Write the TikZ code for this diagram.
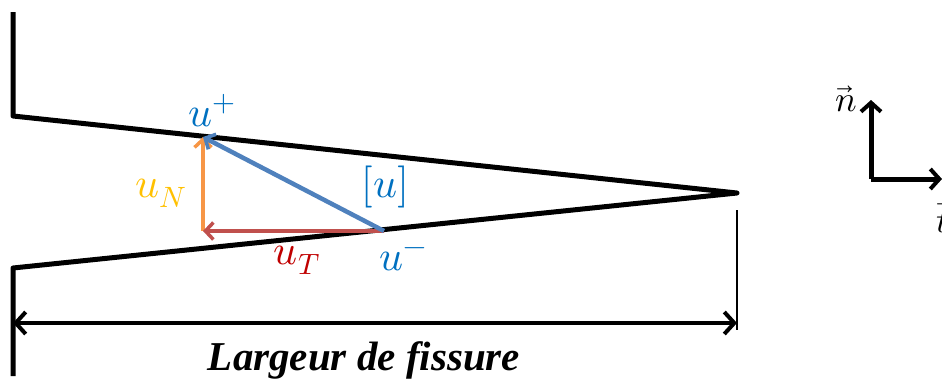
\documentclass[tikz,border=0pt]{standalone}
\usepackage{fontspec}
\usepackage{unicode-math}
\setmathfont{Latin Modern Math}
\newfontfamily\labelfont{Liberation Serif}
\usetikzlibrary{arrows.meta}
\definecolor{lblue}{RGB}{0,112,192}
\definecolor{ablue}{RGB}{79,129,189}
\definecolor{aorange}{RGB}{247,150,70}
\definecolor{lorange}{RGB}{255,192,0}
\definecolor{ared}{RGB}{192,80,77}
\definecolor{lred}{RGB}{192,0,0}
\tikzset{
  wall/.style={line width=5pt, line join=round},
  vec/.style={line width=4.5pt, -{Straight Barb[length=8pt,width=17pt,line width=3.5pt]}},
  lbl/.style={inner sep=0pt, font=\fontsize{42}{42}\selectfont},
  bigbarb/.style={line width=5pt, -{Straight Barb[length=9pt,width=20pt,line width=4pt]}},
}
\begin{document}
\begin{tikzpicture}[x=1pt,y=-1pt]
\useasboundingbox (0,0) rectangle (942,386);
% geometry
\coordinate (tl) at (13,12);
\coordinate (ul) at (13,116);
\coordinate (tip) at (737,193);
\coordinate (ll) at (13,268);
\coordinate (bl) at (13,376);
\coordinate (up) at (203,137);
\coordinate (um) at (384,231);
\coordinate (corner) at (203,231);
\coordinate (dl) at (13,323);
\coordinate (dr) at (737,323);
\coordinate (vt) at (737,210);
\coordinate (vb) at (737,330);
\coordinate (o) at (871,179);
\coordinate (ny) at (871,100);
\coordinate (tx) at (942,179);
% walls
\draw[wall] (tl) -- (ul) -- (tip) -- (ll) -- (bl);
\draw[line width=1.5pt] (vt) -- (vb);
% dimension
\draw[line width=4pt, {Straight Barb[length=10pt,width=22pt,line width=4pt]}-{Straight Barb[length=10pt,width=22pt,line width=4pt]}] (dl) -- (dr);
\node[inner sep=0pt, font=\labelfont\bfseries\itshape\fontsize{41}{41}\selectfont] (larg) at (364,360) {Largeur de fissure};
% vectors
\draw[vec, aorange] (corner) -- (up);
\draw[vec, ared] (um) -- (corner);
\draw[vec, ablue] (um) -- (up);
% labels
\node[lbl, text=lblue] (lup) at (212,111) {$u^{+}$};
\node[lbl, text=lorange] (lun) at (161,193) {$u_{N}$};
\node[lbl, text=lblue] (ljump) at (385,187) {$[u]$};
\node[lbl, text=lred] (lut) at (297,260) {$u_{T}$};
\node[lbl, text=lblue] (lum) at (403,259) {$u^{-}$};
% axes
\draw[bigbarb] (o) -- (ny);
\draw[bigbarb] (o) -- (tx);
\node[lbl, font=\fontsize{36}{36}\selectfont] (ln) at (846,99) {$\vec{n}$};
\node[lbl, font=\fontsize{36}{36}\selectfont] (lt) at (943,217) {$\vec{t}$};
\end{tikzpicture}
\end{document}
